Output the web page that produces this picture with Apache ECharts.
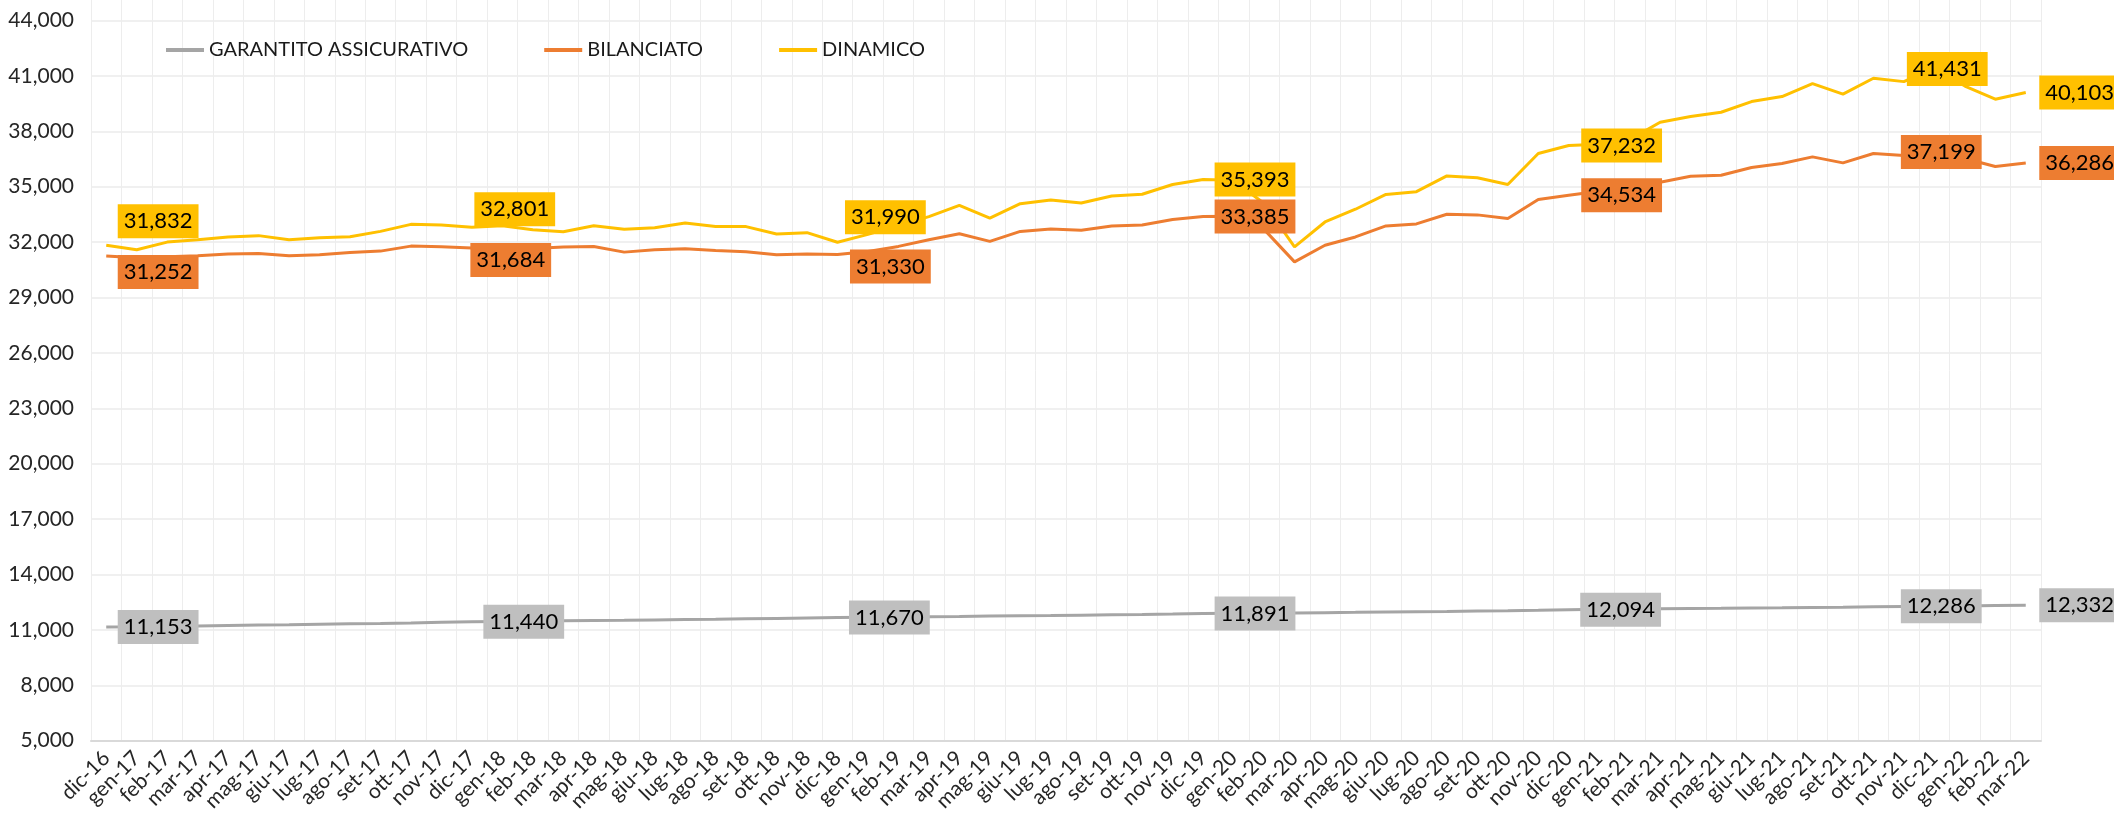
<!DOCTYPE html>
<html>
<head>
<meta charset="utf-8">
<script src="https://cdn.jsdelivr.net/npm/echarts@6/dist/echarts.min.js"></script>
<style>
html,body{margin:0;padding:0;background:#fff;}
#chart{width:2114px;height:821px;}
</style>
</head>
<body>
<div id="chart"></div>
<script>
const categories = ['dic-16',
 'gen-17','feb-17','mar-17','apr-17','mag-17','giu-17','lug-17','ago-17','set-17','ott-17','nov-17','dic-17',
 'gen-18','feb-18','mar-18','apr-18','mag-18','giu-18','lug-18','ago-18','set-18','ott-18','nov-18','dic-18',
 'gen-19','feb-19','mar-19','apr-19','mag-19','giu-19','lug-19','ago-19','set-19','ott-19','nov-19','dic-19',
 'gen-20','feb-20','mar-20','apr-20','mag-20','giu-20','lug-20','ago-20','set-20','ott-20','nov-20','dic-20',
 'gen-21','feb-21','mar-21','apr-21','mag-21','giu-21','lug-21','ago-21','set-21','ott-21','nov-21','dic-21',
 'gen-22','feb-22','mar-22'];

const seriesNames = ['GARANTITO ASSICURATIVO', 'BILANCIATO', 'DINAMICO'];

const garantito = [11153,
 11170,11188,11214,11240,11262,11280,11305,11330,11352,11378,11410,11440,
 11455,11468,11490,11505,11522,11540,11560,11575,11598,11620,11645,11670,
 11688,11702,11715,11730,11748,11765,11780,11800,11820,11840,11862,11891,
 11905,11912,11920,11935,11950,11968,11985,12000,12020,12040,12065,12094,
 12112,12128,12140,12155,12170,12188,12200,12215,12232,12250,12268,12286,
 12300,12318,12332];

const bilanciato = [31252,
 31150,31200,31262,31350,31387,31262,31316,31441,31512,31783,31750,31684,
 31620,31660,31730,31767,31457,31587,31641,31550,31479,31316,31352,31330,
 31496,31767,32130,32456,32038,32580,32710,32642,32875,32930,33222,33385,
 33400,32690,30930,31829,32280,32875,32984,33510,33474,33279,34306,34534,
 34750,35050,35244,35569,35623,36040,36257,36615,36290,36799,36691,37199,
 36528,36095,36286];

const dinamico = [31832,
 31590,32000,32130,32270,32350,32130,32240,32290,32580,32960,32920,32801,
 32890,32670,32560,32890,32690,32780,33030,32850,32840,32435,32510,31990,
 32420,32890,33380,33990,33300,34080,34280,34120,34500,34590,35120,35393,
 35350,34090,31740,33090,33780,34580,34730,35585,35480,35120,36800,37232,
 37300,37550,38490,38800,39030,39610,39880,40585,40010,40875,40690,41431,
 40450,39740,40103];

const yTicks = {min: 5000, max: 44000, interval: 3000};
const labelIdx = [0, 12, 24, 36, 48, 60, 63];

// label placement (styling, not data)
const colors = ['#A5A5A5', '#ED7D31', '#FFC000'];
const boxColors = ['#BFBFBF', '#ED7D31', '#FFC000'];
const labelOffsets = [
  [[0,0],[0,0],[0,0],[0,0],[0,0],[-45,0],[2,0]],
  [[0,16],[-13,12],[1,12],[0,0],[1,0],[-45,6],[2,0]],
  [[0,-24],[-9,-18],[-4,-25],[0,0],[1,0],[-39,1],[2,0]]
];

const FONT = 'Lato, "Liberation Sans", Arial, sans-serif';
const fmt = v => Number(v).toLocaleString('en-US');
const allData = [garantito, bilanciato, dinamico];

const lineSeries = allData.map((d, s) => ({
  name: seriesNames[s],
  type: 'line',
  data: d,
  symbol: 'none',
  smooth: false,
  lineStyle: {width: 3, color: colors[s]},
  itemStyle: {color: colors[s]},
  z: 2
}));

const labelSeries = allData.map((d, s) => ({
  type: 'scatter',
  silent: true,
  z: 10,
  symbolSize: 1,
  itemStyle: {color: 'rgba(0,0,0,0)', opacity: 1},
  data: labelIdx.map((i, k) => ({
    value: [i, d[i]],
    label: {offset: labelOffsets[s][k]}
  })),
  label: {
    show: true,
    opacity: 1,
    position: 'right',
    distance: 11,
    formatter: p => fmt(p.value[1]),
    backgroundColor: boxColors[s],
    color: '#000',
    fontFamily: FONT,
    fontSize: 22,
    lineHeight: 25,
    padding: [5, 6, 4, 6]
  }
}));

const chart = echarts.init(document.getElementById('chart'), null, {renderer: 'canvas'});
chart.setOption({
  animation: false,
  backgroundColor: '#fff',
  legend: {
    data: seriesNames,
    left: 161,
    top: 35,
    icon: 'rect',
    itemWidth: 38,
    itemHeight: 4,
    itemGap: 76,
    textStyle: {fontFamily: FONT, fontSize: 20, color: '#1a1a1a'}
  },
  grid: [
    {left: 91, right: 73, top: 20.5, bottom: 80.3, containLabel: false},
    {left: 91, right: 73, top: 0, bottom: 80.3, containLabel: false}
  ],
  xAxis: [{
    type: 'category',
    data: categories,
    boundaryGap: true,
    axisLine: {show: true, lineStyle: {color: '#D9D9D9', width: 2}},
    axisTick: {show: false},
    splitLine: {show: false},
    axisLabel: {
      interval: 0,
      rotate: 45,
      margin: 14,
      fontFamily: FONT,
      fontSize: 21,
      color: '#262626'
    }
  }, {
    gridIndex: 1,
    type: 'category',
    data: categories,
    boundaryGap: true,
    axisLine: {show: false},
    axisTick: {show: false},
    axisLabel: {show: false},
    splitLine: {show: true, interval: 0, lineStyle: {color: '#EDEDED', width: 1}}
  }],
  yAxis: [{
    type: 'value',
    min: yTicks.min,
    max: yTicks.max,
    interval: yTicks.interval,
    axisLine: {show: false},
    axisTick: {show: false},
    splitLine: {show: true, lineStyle: {color: '#EBEBEB', width: 1.5}},
    axisLabel: {
      margin: 17,
      fontFamily: FONT,
      fontSize: 21,
      color: '#262626',
      formatter: v => fmt(v)
    }
  }, {
    gridIndex: 1,
    type: 'value',
    min: 0,
    max: 1,
    show: false,
    splitLine: {show: false}
  }],
  series: lineSeries.concat(labelSeries)
});
</script>
</body>
</html>
